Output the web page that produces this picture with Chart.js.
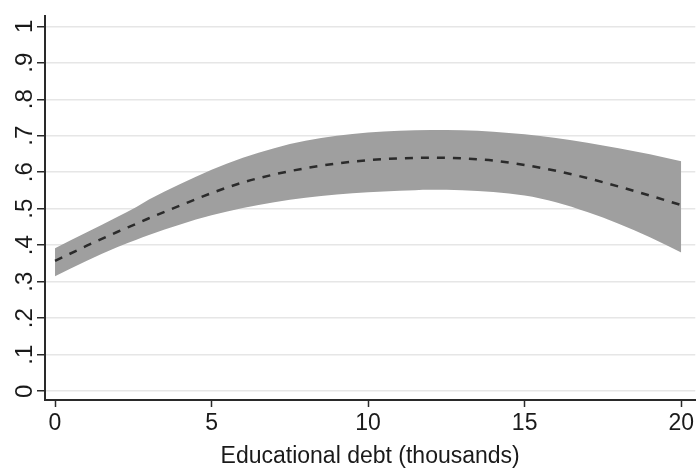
<!DOCTYPE html>
<html>
<head>
<meta charset="utf-8">
<script src="https://cdn.jsdelivr.net/npm/chart.js@4/dist/chart.umd.min.js"></script>
<style>
  html, body { margin: 0; padding: 0; background: #fff; }
  #wrap { width: 697px; height: 473px; }
</style>
</head>
<body>
<div id="wrap"><canvas id="chart" width="697" height="473"></canvas></div>
<script>
// Predicted value with confidence band
const debt = [0, 1, 2, 2.6, 3, 4, 5, 6, 7, 8, 9, 10, 11, 12, 13, 14, 15, 16, 17, 18, 19, 20];
const predicted = [0.357, 0.398, 0.437, 0.459, 0.474, 0.509, 0.543, 0.572, 0.594, 0.611, 0.624, 0.633, 0.638, 0.640, 0.638, 0.632, 0.620, 0.604, 0.584, 0.561, 0.536, 0.510];
const upperCI = [0.392, 0.435, 0.478, 0.505, 0.525, 0.568, 0.607, 0.640, 0.666, 0.686, 0.700, 0.709, 0.714, 0.716, 0.715, 0.711, 0.704, 0.694, 0.681, 0.666, 0.649, 0.630];
const lowerCI = [0.315, 0.357, 0.395, 0.415, 0.428, 0.457, 0.482, 0.502, 0.518, 0.530, 0.539, 0.545, 0.549, 0.552, 0.551, 0.546, 0.536, 0.518, 0.491, 0.459, 0.422, 0.380];

const xTicks = [0, 5, 10, 15, 20];
const yTicks = [0, 0.1, 0.2, 0.3, 0.4, 0.5, 0.6, 0.7, 0.8, 0.9, 1];
const yTickLabels = ['0', '.1', '.2', '.3', '.4', '.5', '.6', '.7', '.8', '.9', '1'];

const FONT = "'Liberation Sans', Arial, sans-serif";
const AXIS_COLOR = '#2a2a2a';

function toPoints(ys) {
    return debt.map((x, i) => ({ x: x, y: ys[i] }));
}

const ctx = document.getElementById('chart').getContext('2d');
new Chart(ctx, {
    type: 'line',
    data: {
        datasets: [
            {
                label: 'Predicted',
                data: toPoints(predicted),
                borderColor: '#2b2b2b',
                borderWidth: 2.5,
                borderDash: [8, 8],
                pointRadius: 0,
                fill: false,
                cubicInterpolationMode: 'monotone'
            },
            {
                label: 'Upper',
                data: toPoints(upperCI),
                borderWidth: 0,
                borderColor: 'rgba(0,0,0,0)',
                backgroundColor: '#9f9f9f',
                pointRadius: 0,
                fill: '+1',
                cubicInterpolationMode: 'monotone'
            },
            {
                label: 'Lower',
                data: toPoints(lowerCI),
                borderWidth: 0,
                borderColor: 'rgba(0,0,0,0)',
                pointRadius: 0,
                fill: false,
                cubicInterpolationMode: 'monotone'
            }
        ]
    },
    options: {
        responsive: false,
        animation: false,
        layout: { padding: { bottom: 3 } },
        plugins: {
            legend: { display: false },
            tooltip: { enabled: false }
        },
        scales: {
            x: {
                type: 'linear',
                min: -0.32,
                max: 20.45,
                afterBuildTicks: scale => { scale.ticks = xTicks.map(v => ({ value: v })); },
                afterFit: scale => { scale.height = 70; },
                border: { display: true, color: AXIS_COLOR, width: 2 },
                grid: { drawOnChartArea: false, drawTicks: true, tickLength: 7, tickColor: AXIS_COLOR, tickWidth: 1.5 },
                ticks: {
                    color: '#1a1a1a',
                    font: { family: FONT, size: 23 },
                    padding: 3,
                    maxRotation: 0,
                    callback: v => String(v)
                },
                title: {
                    display: true,
                    text: 'Educational debt (thousands)',
                    color: '#1a1a1a',
                    font: { family: FONT, size: 23 },
                    padding: 0
                }
            },
            y: {
                type: 'linear',
                min: -0.024,
                max: 1.027,
                afterBuildTicks: scale => { scale.ticks = yTicks.map(v => ({ value: v })); },
                afterFit: scale => { scale.width = 45; },
                border: { display: true, color: AXIS_COLOR, width: 2 },
                grid: { color: '#e6e6e6', lineWidth: 1.5, drawTicks: true, tickLength: 8, tickColor: AXIS_COLOR, tickWidth: 1.5 },
                ticks: {
                    color: '#1a1a1a',
                    font: { family: FONT, size: 24 },
                    padding: 2,
                    minRotation: 90,
                    maxRotation: 90,
                    crossAlign: 'center',
                    callback: v => {
                        const i = yTicks.indexOf(v);
                        return i >= 0 ? yTickLabels[i] : '';
                    }
                }
            }
        }
    }
});
</script>
</body>
</html>
